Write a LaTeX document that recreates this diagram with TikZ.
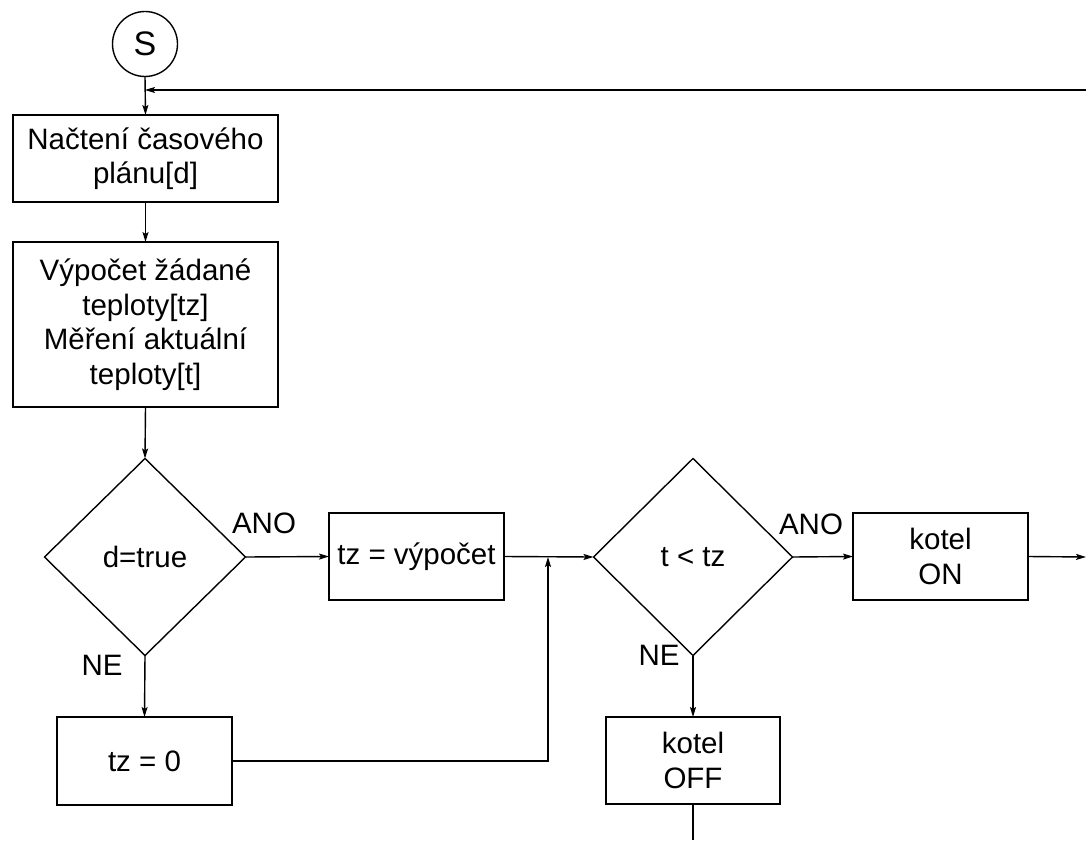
\documentclass[tikz,border=0pt]{standalone}
\usepackage{fontspec}
\setmainfont{Liberation Sans}
\usetikzlibrary{shapes.geometric,arrows.meta}
\begin{document}
\begin{tikzpicture}[x=1pt,y=-1pt,
  every node/.style={font=\fontsize{29.5}{34.5}\selectfont, inner sep=0pt, outer sep=0pt},
  box/.style={draw, line width=1.4pt, rectangle, align=center},
  dec/.style={draw, line width=1.4pt, diamond, aspect=1},
  lbl/.style={},
  conn/.style={line width=1.4pt},
  arr/.style={conn, -{Stealth[length=10pt,width=6pt,inset=2pt]}}]
\useasboundingbox (0,0) rectangle (1086,840);
\node[draw, line width=1.4pt, circle, minimum size=65pt, font=\fontsize{34}{38}\selectfont] (S) at (145,44) {S};
\node[box, minimum width=265pt, minimum height=87pt] (b1) at (145.5,158.5) {Načtení časového\\plánu[d]};
\node[box, minimum width=265pt, minimum height=165pt] (b2) at (145.5,324.5) {Výpočet žádané\\teploty[tz]\\Měření aktuální\\teploty[t]};
\node[dec, minimum width=201pt, minimum height=197pt] (d1) at (145,557) {d=true};
\node[box, minimum width=175pt, minimum height=87pt] (bv) at (416.5,556.5) {tz = výpočet};
\node[box, minimum width=175pt, minimum height=88pt] (b0) at (144.5,761) {tz = 0};
\node[dec, minimum width=199pt, minimum height=197pt] (d2) at (693,557) {t < tz};
\node[box, minimum width=175pt, minimum height=87pt] (on) at (940.5,556.5) {kotel\\ON};
\node[box, minimum width=174pt, minimum height=87pt] (off) at (693,760.5) {kotel\\OFF};
\node[lbl] (ano1) at (264,523) {ANO};
\node[lbl] (ne1) at (102,665) {NE};
\node[lbl] (ano2) at (811,524) {ANO};
\node[lbl] (ne2) at (659,655) {NE};
\coordinate (loopR) at (1086,90);
\coordinate (loopJ) at (145,90);
\coordinate (jn) at (548,557);
\coordinate (onR) at (1086,557);
\coordinate (offB) at (693,840);
\draw[arr] (S.south) -- (b1.north);
\draw[arr] (loopR) -- (loopJ);
\draw[arr] (b1.south) -- (b2.north);
\draw[arr] (b2.south) -- (d1.north);
\draw[arr] (d1.east) -- (bv.west);
\draw[arr] (d1.south) -- (b0.north);
\draw[arr] (bv.east) -- (d2.west);
\draw[arr] (b0.east) -| (jn);
\draw[arr] (d2.east) -- (on.west);
\draw[arr] (on.east) -- (onR);
\draw[arr] (d2.south) -- (off.north);
\draw[conn] (off.south) -- (offB);
\end{tikzpicture}
\end{document}
